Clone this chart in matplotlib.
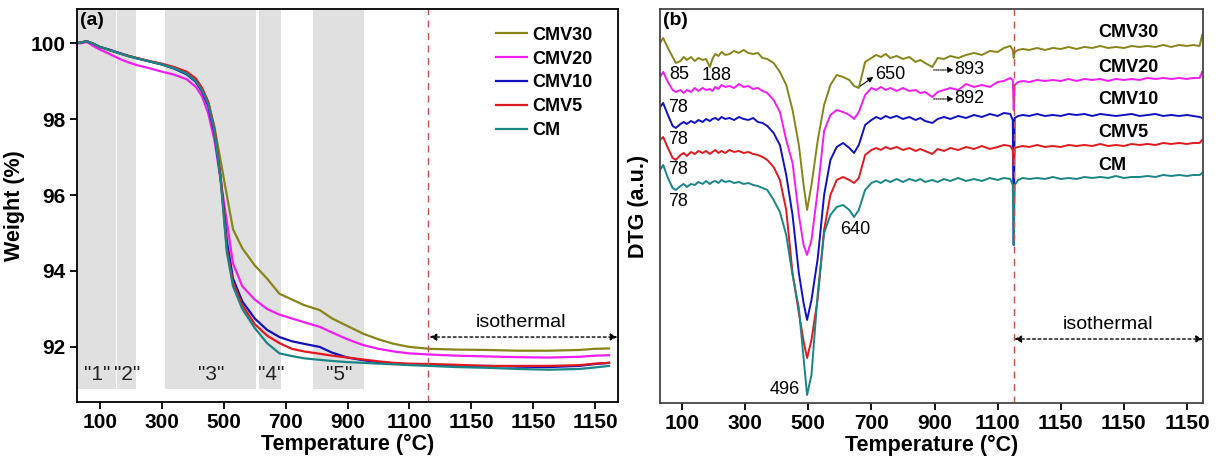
import matplotlib
matplotlib.use("Agg")
import matplotlib.pyplot as plt

plt.rcParams['font.family'] = ['Liberation Sans', 'DejaVu Sans']

# ---- data --------------------------------------------------------------
samples = ['CMV30', 'CMV20', 'CMV10', 'CMV5', 'CM']
colors = ['#85851a', '#f01cf0', '#1010c0', '#e0191f', '#1a8585']

# TG (panel a) -- temperature axis continues into the isothermal hold
temp_tg = [26, 40, 58, 80, 100, 130, 160, 190, 220, 260, 300, 340, 380, 410, 430,
           450, 470, 490, 510, 530, 560, 600, 640, 680, 720, 760, 810, 850, 900, 950,
           1000, 1050, 1100, 1165, 1250, 1350, 1450, 1550, 1650, 1700, 1745]
tg_cmv30 = [100.0, 100.02, 100.05, 99.98, 99.9, 99.82, 99.74, 99.66, 99.6, 99.52, 99.44,
            99.34, 99.2, 99.02, 98.8, 98.45, 97.8, 96.9, 96.0, 95.1, 94.6, 94.15, 93.8,
            93.4, 93.25, 93.1, 92.97, 92.75, 92.55, 92.35, 92.2, 92.08, 92.0, 91.95,
            91.93, 91.92, 91.9, 91.9, 91.92, 91.95, 91.96]
tg_cmv20 = [100.0, 100.0, 100.03, 99.92, 99.83, 99.72, 99.6, 99.5, 99.42, 99.34, 99.25,
            99.17, 99.05, 98.85, 98.6, 98.15, 97.45, 96.4, 95.3, 94.2, 93.6, 93.25, 93.0,
            92.85, 92.75, 92.65, 92.53, 92.38, 92.2, 92.05, 91.95, 91.88, 91.83, 91.8,
            91.77, 91.75, 91.73, 91.72, 91.74, 91.77, 91.78]
tg_cmv10 = [100.0, 100.02, 100.05, 99.98, 99.9, 99.83, 99.75, 99.67, 99.6, 99.52, 99.44,
            99.33, 99.18, 98.98, 98.72, 98.35, 97.65, 96.45, 94.8, 93.8, 93.2, 92.75, 92.45,
            92.26, 92.15, 92.08, 92.0, 91.85, 91.72, 91.65, 91.6, 91.56, 91.54, 91.53,
            91.5, 91.5, 91.48, 91.47, 91.5, 91.55, 91.58]
tg_cmv5 = [100.0, 100.02, 100.05, 99.98, 99.9, 99.82, 99.74, 99.67, 99.61, 99.53, 99.46,
           99.37, 99.25, 99.07, 98.82, 98.45, 97.75, 96.5, 94.6, 93.7, 93.1, 92.6, 92.3,
           92.1, 91.95, 91.88, 91.82, 91.77, 91.72, 91.67, 91.62, 91.58, 91.56, 91.55,
           91.53, 91.5, 91.5, 91.5, 91.52, 91.56, 91.58]
tg_cm = [100.0, 100.02, 100.05, 99.98, 99.9, 99.82, 99.74, 99.66, 99.6, 99.52, 99.44,
         99.34, 99.2, 99.0, 98.75, 98.4, 97.7, 96.4, 94.5, 93.6, 93.0, 92.5, 92.1,
         91.83, 91.76, 91.7, 91.66, 91.63, 91.6, 91.58, 91.56, 91.54, 91.52, 91.5,
         91.47, 91.45, 91.42, 91.4, 91.42, 91.46, 91.5]

# DTG (panel b), curves stacked, arbitrary units
temp_dtg = [30, 40, 55, 70, 80,
            95, 105, 115, 128, 140, 152, 165, 176, 188, 196, 205, 215, 225, 237, 250, 265,
            280, 295, 310, 325, 340, 355, 370, 390,
            410, 430, 450, 470, 485, 496, 510, 530, 550, 570, 590, 610, 630, 645, 660, 680,
            700, 715, 730, 745, 760, 780, 800, 820, 840, 855, 870, 893, 910, 930, 950, 975,
            1000, 1025, 1050, 1075, 1100, 1120, 1140,
            1148, 1151, 1154,
            1165, 1180, 1200, 1225, 1250, 1275, 1300, 1325, 1350, 1375, 1400, 1425, 1450,
            1475, 1500, 1525, 1550, 1575, 1600, 1625, 1650, 1675, 1700, 1720, 1740, 1748]
dtg_cmv30 = [3.60, 3.65, 3.55, 3.46, 3.40,
             3.42, 3.46, 3.43, 3.46, 3.42, 3.45, 3.43, 3.44, 3.36, 3.44, 3.49, 3.47, 3.51,
             3.48, 3.49, 3.52, 3.50, 3.53, 3.50, 3.49, 3.50, 3.45, 3.44, 3.40,
             3.31, 3.18, 2.93, 2.58, 2.18, 1.93, 2.18, 2.63, 2.98, 3.18, 3.28, 3.26, 3.23,
             3.17, 3.15, 3.41,
             3.45, 3.48, 3.46, 3.49, 3.45, 3.47, 3.44, 3.46, 3.41, 3.43, 3.40, 3.36, 3.45,
             3.44, 3.47, 3.45, 3.48, 3.50, 3.48, 3.52, 3.51, 3.55, 3.57,
             3.53, 3.45, 3.51,
             3.53, 3.54, 3.53, 3.55, 3.53, 3.55, 3.54, 3.56, 3.54, 3.56, 3.55, 3.57, 3.55,
             3.56, 3.55, 3.57, 3.56, 3.57, 3.56, 3.58, 3.56, 3.58, 3.57, 3.58, 3.57, 3.68]
dtg_cmv20 = [3.26, 3.31, 3.21, 3.13, 3.11,
             3.13, 3.10, 3.13, 3.11, 3.15, 3.12, 3.15, 3.13, 3.14, 3.12, 3.16, 3.14, 3.18,
             3.16, 3.17, 3.15, 3.19, 3.16, 3.17, 3.14, 3.15, 3.12, 3.10, 3.03,
             2.91, 2.63, 2.40, 1.88, 1.58, 1.48, 1.63, 2.13, 2.72, 2.88, 2.93, 2.91, 2.88,
             2.84, 2.91, 3.08,
             3.15, 3.13, 3.16, 3.13, 3.15, 3.12, 3.15, 3.12, 3.13, 3.10, 3.11, 3.06, 3.11,
             3.13, 3.15, 3.13, 3.19, 3.16, 3.18, 3.16, 3.21, 3.22, 3.25,
             3.23, 2.93, 3.18,
             3.21, 3.22, 3.21, 3.23, 3.22, 3.23, 3.22, 3.24, 3.22, 3.24, 3.23, 3.24, 3.22,
             3.24, 3.23, 3.24, 3.23, 3.25, 3.24, 3.25, 3.24, 3.25, 3.24, 3.25, 3.25, 3.31]
dtg_cmv10 = [2.96, 3.00, 2.88, 2.77, 2.75,
             2.79, 2.81, 2.79, 2.82, 2.80, 2.83, 2.81, 2.84, 2.82, 2.84, 2.85, 2.83, 2.86,
             2.84, 2.85, 2.83, 2.86, 2.84, 2.83, 2.85, 2.81, 2.80, 2.77, 2.70,
             2.58, 2.28, 1.88, 1.30, 1.00, 0.83, 1.03, 1.45, 2.08, 2.43, 2.56, 2.60, 2.55,
             2.50, 2.58, 2.78,
             2.83, 2.86, 2.84, 2.87, 2.85, 2.87, 2.84, 2.86, 2.83, 2.85, 2.82, 2.80, 2.84,
             2.86, 2.84, 2.87, 2.85, 2.88, 2.86, 2.89, 2.87, 2.90, 2.89,
             2.83, 1.58, 2.85,
             2.87, 2.88, 2.87, 2.89, 2.87, 2.88, 2.87, 2.89, 2.88, 2.89, 2.87, 2.89, 2.88,
             2.87, 2.88, 2.89, 2.87, 2.88, 2.89, 2.87, 2.88, 2.87, 2.88, 2.87, 2.86, 2.85]
dtg_cmv5 = [2.63, 2.66, 2.55, 2.45, 2.43,
            2.48, 2.50, 2.47, 2.51, 2.49, 2.52, 2.50, 2.52, 2.49, 2.51, 2.53, 2.50, 2.52,
            2.50, 2.53, 2.51, 2.52, 2.50, 2.51, 2.49, 2.48, 2.46, 2.43, 2.36,
            2.23, 1.93, 1.30, 0.90, 0.62, 0.45, 0.63, 1.05, 1.73, 2.08, 2.23, 2.26, 2.23,
            2.20, 2.25, 2.48,
            2.53, 2.55, 2.53, 2.56, 2.54, 2.56, 2.53, 2.55, 2.52, 2.54, 2.52, 2.49, 2.54,
            2.52, 2.55, 2.53, 2.56, 2.54, 2.57, 2.54, 2.56, 2.58, 2.57,
            2.53, 2.38, 2.55,
            2.56, 2.57, 2.56, 2.58, 2.56, 2.57, 2.56, 2.58, 2.57, 2.58, 2.57, 2.59, 2.57,
            2.58, 2.57, 2.59, 2.58, 2.59, 2.58, 2.60, 2.59, 2.60, 2.59, 2.60, 2.60, 2.63]
dtg_cm = [2.33, 2.38, 2.25, 2.15, 2.13,
          2.17, 2.19, 2.16, 2.19, 2.18, 2.21, 2.19, 2.22, 2.19, 2.21, 2.22, 2.20, 2.23,
          2.21, 2.22, 2.20, 2.21, 2.19, 2.20, 2.18, 2.17, 2.15, 2.13, 2.03,
          1.91, 1.68, 1.28, 0.95, 0.45, 0.08, 0.28, 1.10, 1.70, 1.88, 1.96, 1.98, 1.93,
          1.86, 1.93, 2.13,
          2.20, 2.22, 2.20, 2.23, 2.21, 2.24, 2.21, 2.24, 2.22, 2.24, 2.21, 2.23, 2.21,
          2.24, 2.22, 2.25, 2.22, 2.24, 2.22, 2.25, 2.23, 2.25, 2.24,
          2.18, 1.58, 2.18,
          2.23, 2.25, 2.24, 2.25, 2.24, 2.26, 2.24, 2.25, 2.24, 2.26, 2.25, 2.26, 2.25,
          2.27, 2.25, 2.26, 2.26, 2.27, 2.26, 2.28, 2.27, 2.28, 2.27, 2.28, 2.28, 2.30]

tg_all = [tg_cmv30, tg_cmv20, tg_cmv10, tg_cmv5, tg_cm]
dtg_all = [dtg_cmv30, dtg_cmv20, dtg_cmv10, dtg_cmv5, dtg_cm]

# decomposition stages
stage_names = ['"1"', '"2"', '"3"', '"4"', '"5"']
stage_ranges = [(26, 152), (155, 216), (310, 603), (613, 684), (790, 952)]
stage_label_x = [90, 187, 461, 652, 874]

tick_pos = [100, 300, 500, 700, 900, 1100, 1300, 1500, 1700]
tick_lab = ['100', '300', '500', '700', '900', '1100', '1150', '1150', '1150']

# peak labels in DTG: (text, x, y)
peak_labels = [('85', 90, 3.28), ('188', 208, 3.27), ('78', 87, 2.95), ('78', 87, 2.63),
               ('78', 87, 2.33), ('78', 87, 2.01), ('640', 649, 1.73), ('496', 424, 0.13)]

# ---- figure ------------------------------------------------------------
fig = plt.figure(figsize=(12.2, 4.63), dpi=100)
ax1 = fig.add_axes([0.0631, 0.1318, 0.4435, 0.8488])
ax2 = fig.add_axes([0.541, 0.1296, 0.4451, 0.851])

# panel (a)
for (x0, x1), name, xl in zip(stage_ranges, stage_names, stage_label_x):
    ax1.axvspan(x0, x1, ymin=0.033, ymax=0.997, color='#e0e0e0', lw=0, zorder=0)
    ax1.text(xl, 91.27, name, fontsize=15, ha='center', va='center', color='#222222')

for name, vals, c in zip(samples, tg_all, colors):
    ax1.plot(temp_tg, vals, color=c, lw=1.6, label=name)

ax1.axvline(1160, color='#c85050', ls=(0, (5, 4)), lw=1)
ax1.annotate('', xy=(1772, 92.26), xytext=(1165, 92.26),
             arrowprops=dict(arrowstyle='<|-|>', ls=(0, (2, 2)), lw=1, color='black',
                             mutation_scale=10, shrinkA=0, shrinkB=0))
ax1.text(1461, 92.63, 'isothermal', fontsize=14, ha='center', va='center')
ax1.text(0.006, 0.993, '(a)', transform=ax1.transAxes, fontsize=14, fontweight='bold',
         ha='left', va='top')

ax1.set_xlim(26, 1774)
ax1.set_ylim(90.55, 100.9)
ax1.set_yticks([92, 94, 96, 98, 100])
ax1.set_ylabel('Weight (%)', fontsize=15.5, fontweight='bold', labelpad=4)

leg = ax1.legend(loc='upper left', bbox_to_anchor=(0.775, 0.955), frameon=False,
                 borderpad=0, borderaxespad=0, handlelength=1.7, handletextpad=0.3,
                 labelspacing=0.38, prop={'weight': 'bold', 'size': 13})

# panel (b)
for name, vals, c in zip(samples, dtg_all, colors):
    ax2.plot(temp_dtg, vals, color=c, lw=1.4)

label_y = [3.70, 3.35, 3.03, 2.70, 2.37]
for name, yy in zip(samples, label_y):
    ax2.text(1418, yy, name, fontsize=13, fontweight='bold', ha='left', va='center')

for txt, xx, yy in peak_labels:
    ax2.text(xx, yy, txt, fontsize=13, ha='center', va='center')

ax2.annotate('', xy=(706, 3.26), xytext=(665, 3.17),
             arrowprops=dict(arrowstyle='-|>', lw=0.8, color='black', mutation_scale=8,
                             shrinkA=0, shrinkB=0))
ax2.text(712, 3.28, '650', fontsize=13, ha='left', va='center')
for lab, yy in [('893', 3.33), ('892', 3.04)]:
    ax2.annotate('', xy=(960, yy), xytext=(897, yy),
                 arrowprops=dict(arrowstyle='-|>', ls=(0, (1, 1)), lw=0.8, color='black',
                                 mutation_scale=8, shrinkA=0, shrinkB=0))
    ax2.text(962, yy, lab, fontsize=13, ha='left', va='center')

ax2.axvline(1151, color='#c85050', ls=(0, (5, 4)), lw=1)
ax2.annotate('', xy=(1751, 0.64), xytext=(1153, 0.64),
             arrowprops=dict(arrowstyle='<|-|>', ls=(0, (2, 2)), lw=1, color='black',
                             mutation_scale=10, shrinkA=0, shrinkB=0))
ax2.text(1450, 0.78, 'isothermal', fontsize=14, ha='center', va='center')
ax2.text(0.006, 0.993, '(b)', transform=ax2.transAxes, fontsize=14, fontweight='bold',
         ha='left', va='top')

ax2.set_xlim(30, 1751)
ax2.set_ylim(0, 3.94)
ax2.set_yticks([])
ax2.set_ylabel('DTG (a.u.)', fontsize=15.5, fontweight='bold', labelpad=8)
for sp in ax2.spines.values():
    sp.set_color('#444444')
    sp.set_linewidth(1.3)
for sp in ax1.spines.values():
    sp.set_linewidth(1.3)

for ax in (ax1, ax2):
    ax.set_xticks(tick_pos)
    ax.set_xticklabels(tick_lab)
    ax.set_xlabel('Temperature (\u00b0C)', fontsize=15.5, fontweight='bold', labelpad=1)
    ax.tick_params(labelsize=15, width=1.3, length=5, pad=3)
    for t in ax.get_xticklabels() + ax.get_yticklabels():
        t.set_fontweight('bold')

fig.savefig('out.png', dpi=100)
